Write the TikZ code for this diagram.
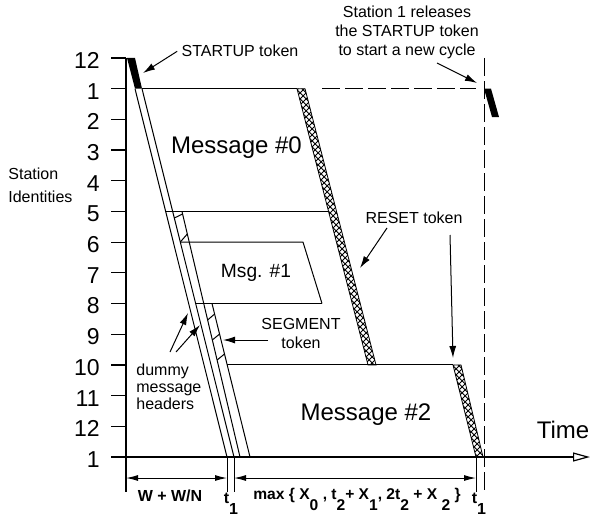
\documentclass[tikz,border=0pt]{standalone}
\usepackage{fontspec}
\setmainfont{Liberation Sans}
\usetikzlibrary{arrows.meta,patterns}

\tikzset{
  axis/.style={line width=0.6pt},
  thinline/.style={line width=0.5pt},
  cycleline/.style={line width=0.5pt,dash pattern=on 9pt off 2.5pt},
  token/.style={draw,line width=0.4pt,pattern=crosshatch},
  pointer/.style={line width=0.5pt,-{Latex[length=6pt,width=3.5pt]}},
  dimline/.style={line width=0.5pt,{Latex[length=6pt,width=3pt]}-{Latex[length=6pt,width=3pt]}},
  ticklab/.style={font=\fontsize{11.5}{13}\selectfont,anchor=east,inner sep=0pt},
  msglab/.style={font=\fontsize{12}{14}\selectfont,anchor=base,inner sep=0pt},
  note/.style={font=\fontsize{8}{9.5}\selectfont,inner sep=0pt},
  dimlab/.style={font=\fontsize{8}{9.5}\selectfont\bfseries,anchor=base,inner sep=0pt},
}
\newcommand{\dn}[1]{\raisebox{-1.4ex}{#1}}

\begin{document}
\begin{tikzpicture}[x=0.5pt,y=-0.5pt]
\useasboundingbox (0,0) rectangle (592,519);

% Draw axes
\draw[axis] (126,58) -- (126,492);
\draw[axis,-{Triangle[open,length=8.5pt,width=4.5pt]}] (111,457) -- (590,457);

% Station ticks and labels
\foreach \lab [count=\k from 0] in {12,1,2,3,4,5,6,7,8,9,10,11,12,1}{
  \draw[axis] (111,{58+30.69*\k}) -- (126,{58+30.69*\k});
  \node[ticklab] (st\k) at (100,{60.5+30.69*\k}) {\lab};
}
\node[note,anchor=north west,align=left,font=\fontsize{8}{11.5}\selectfont] (ident) at (8,168) {Station\\Identities};

% STARTUP tokens
\fill (127,58) -- (135,58) -- (142,88.7) -- (135,88.7) -- cycle;
\fill (484,88.7) -- (491,88.7) -- (499,117) -- (492,117) -- cycle;

% Header lines
\draw[thinline] (135,88.7) -- (227,457);
\draw[thinline] (142,88.7) -- (234,457);
\draw[thinline] (182,211.5) -- (240,457);
\draw[thinline] (212,303.5) -- (250,457);

% Segment ticks
\draw[thinline] (174.3,218) -- (182.6,214);
\draw[thinline] (180.3,242) -- (187.3,234);
\draw[thinline] (207.6,320) -- (214.6,314);
\draw[thinline] (212.3,340) -- (219.6,334);
\draw[thinline] (217.1,360) -- (224.5,354);

% Message boundaries
\draw[thinline] (142,88.7) -- (297,88.7);
\draw[thinline] (165.7,211.5) -- (328.6,211.5);
\draw[thinline] (180.3,242.1) -- (303,242.1) -- (322,303.5);
\draw[thinline] (195.7,303.5) -- (322,303.5);
\draw[thinline] (227.2,364.9) -- (453,364.9);

% RESET tokens
\draw[token] (297,88.7) -- (305,88.7) -- (376,364.9) -- (368,364.9) -- cycle;
\draw[token] (453,364.9) -- (461,364.9) -- (483,457) -- (476,457) -- cycle;

% End of cycle
\draw[cycleline] (322,88.7) -- (476,88.7);
\draw[cycleline] (484,58) -- (484,492);

% Message labels
\node[msglab] (msg0) at (236.5,153) {Message \#0};
\node[msglab,font=\fontsize{9.6}{11}\selectfont] (msg1) at (256,277) {Msg. \#1};
\node[msglab] (msg2) at (366,420) {Message \#2};
\node[msglab] (time) at (563,438) {Time};

% Annotations
\node[note,anchor=base] (startup) at (240,57) {STARTUP token};
\coordinate (startupTip) at (143,73);
\draw[pointer] ([xshift=-2pt]startup.west) -- (startupTip);

\node[note,anchor=north,align=center] (release) at (407,6) {Station 1 releases\\the STARTUP token\\to start a new cycle};
\coordinate (relTail) at (437,63);
\coordinate (relTip) at (477,83);
\draw[pointer] (relTail) -- (relTip);

\node[note,anchor=base] (reset) at (414,223) {RESET token};
\coordinate (resetTailA) at (387,228);
\coordinate (resetTipA) at (360,268);
\coordinate (resetTailB) at (450,235);
\coordinate (resetTipB) at (453,358);
\draw[pointer] (resetTailA) -- (resetTipA);
\draw[pointer] (resetTailB) -- (resetTipB);

\node[note,anchor=north,align=center] (segment) at (301,318) {SEGMENT\\token};
\coordinate (segTail) at (268,340);
\coordinate (segTip) at (223,340);
\draw[pointer] (segTail) -- (segTip);

\node[note,anchor=north west,align=left,font=\fontsize{8}{8.5}\selectfont] (dummy) at (136,363) {dummy\\message\\headers};
\coordinate (dumTailA) at (170,352);
\coordinate (dumTipA) at (188,313);
\coordinate (dumTailB) at (176,352);
\coordinate (dumTipB) at (200,325);
\draw[pointer] (dumTailA) -- (dumTipA);
\draw[pointer] (dumTailB) -- (dumTipB);

% Dimensions
\draw[thinline] (227,457) -- (227,492);
\draw[thinline] (234,457) -- (234,492);
\draw[thinline] (476,457) -- (476,492);
\coordinate (d0) at (126,478);
\coordinate (d1) at (227,478);
\coordinate (d2) at (234,478);
\coordinate (d3) at (476,478);
\draw[dimline] (d0) -- (d1);
\draw[dimline] (d2) -- (d3);

\node[dimlab] (wlab) at (170,501) {W + W/N};
\node[dimlab] (tleft) at (231,503) {t\dn{1}};
\node[dimlab,font=\fontsize{7.8}{9}\selectfont\bfseries] (maxlab) at (357,499) {max \{ X\dn{0} , t\dn{2}+ X\dn{1}, 2t\dn{2} + X \dn{2} \}};
\node[dimlab] (tright) at (479,503) {t\dn{1}};
\end{tikzpicture}
\end{document}
